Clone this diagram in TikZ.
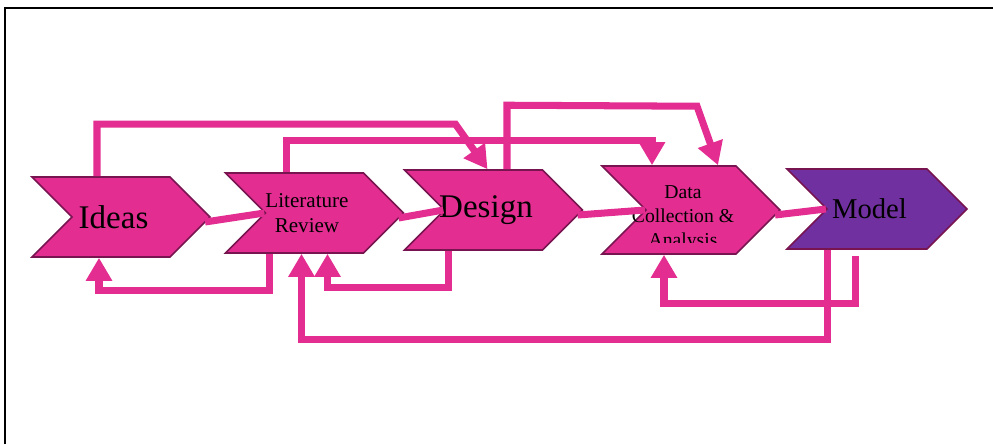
\documentclass[tikz,border=0pt]{standalone}
\usepackage{fontspec}
\setmainfont{Liberation Serif}
\usetikzlibrary{shapes.symbols,arrows.meta,calc,positioning}
\definecolor{chevpink}{RGB}{227,45,145}
\definecolor{chevedge}{RGB}{120,20,80}
\definecolor{modelpurple}{RGB}{112,48,160}
\tikzset{
  chev/.style={signal, signal to=east, signal from=west, draw=chevedge, line width=0.9pt,
    fill=chevpink, minimum width=3.56cm, minimum height=1.6cm, inner sep=0pt},
  chevtext/.style 2 args={label={[xshift=-0.15cm, align=center, font=#1]center:#2}},
  flow/.style={draw=chevpink, line width=4pt, -{Triangle[length=0.46cm,width=0.5cm]}},
  link/.style={draw=chevpink, line width=4pt},
}

\begin{document}
\begin{tikzpicture}[x=0.02cm, y=-0.02cm]
  \useasboundingbox (0,0) rectangle (993,444);
  % frame
  \draw[line width=1.3pt] (5,444) -- (5,8) -- (993,8);

  % the five steps
  \node[chev, chevtext={\fontsize{18.8}{20}\selectfont}{Ideas}] (ideas) at (121,217) {};
  \node[chev, chevtext={\fontsize{12}{14.2}\selectfont}{Literature\\Review}] (lit) at (314.5,213) {};
  \node[chev, chevtext={\fontsize{18.8}{20}\selectfont}{Design}] (design) at (493.5,210) {};
  \node[chev, minimum height=1.76cm] (data) at (691,210) {};
  \node[chev, fill=modelpurple, minimum width=3.6cm, chevtext={\fontsize{16.3}{18}\selectfont}{Model}] (model) at (877,209) {};
  \begin{scope}
    \clip (data.north west) rectangle ($(data.south east)+(0,-12)$);
    \node[font=\fontsize{11.2}{13.6}\selectfont, align=center] (datatext) at (683,218) {Data\\Collection \&\\Analysis};
  \end{scope}

  % links between neighbours
  \foreach \a/\b in {ideas/lit, lit/design, design/data, data/model}
    \draw[link] ($(\a.east)+(-6,5)$) -- (\b.west);

  % feedback and skip arrows
  \draw[flow] ($(ideas.north)+(-24,0)$) |- ($(design.north)+(-38,-45)$) -- ($(design.north)+(-6,0)$);
  \draw[flow] ($(lit.north)+(-28,0)$) -- ++(0,-32) -| ($(data.north)+(-39,0)$);
  \draw[flow] ($(design.north)+(13.5,0)$) -- ++(0,-64) -- ($(data.north)+(6,-59)$) -- ($(data.north)+(27,0)$);
  \draw[flow] ($(lit.south)+(-45,0)$) -- ++(0,37) -| ($(ideas.south)+(-22,0)$);
  \draw[flow] ($(design.south)+(-45,0)$) -- ++(0,37) -| ($(lit.south)+(13,0)$);
  \draw[flow] ($(model.south)+(-22,6)$) -- ++(0,48) -| ($(data.south)+(-27,0)$);
  \draw[flow] ($(model.south)+(-50,0)$) -- ++(0,90) -| ($(lit.south)+(-13,0)$);
\end{tikzpicture}
\end{document}
